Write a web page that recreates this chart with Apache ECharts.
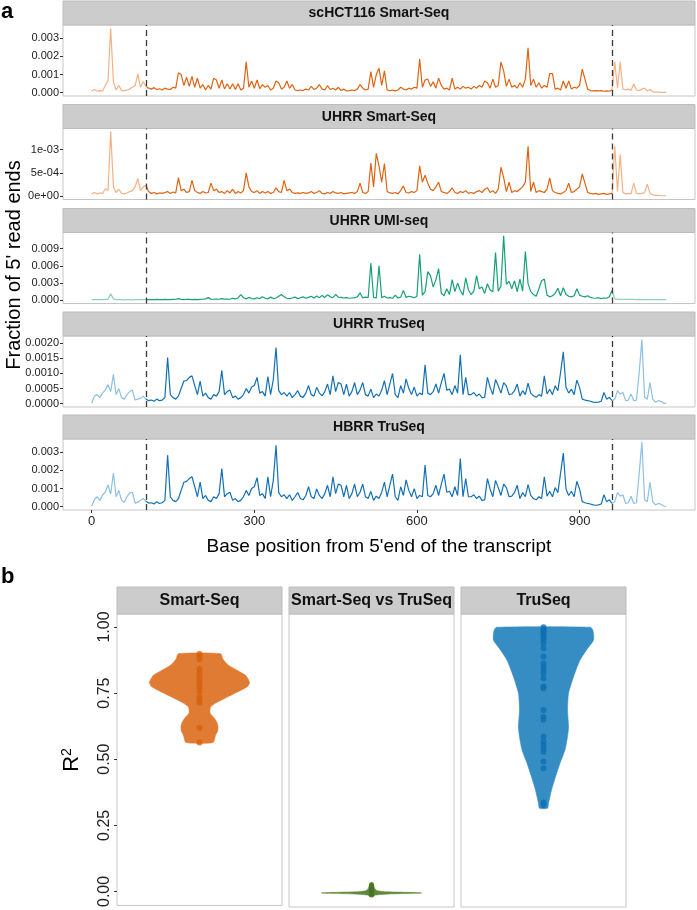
<!DOCTYPE html>
<html><head><meta charset="utf-8">
<script src="https://cdn.jsdelivr.net/npm/echarts@6/dist/echarts.min.js"></script>
<style>html,body{margin:0;padding:0;background:#fff}#c{width:697px;height:910px}</style>
</head><body><div id="c"></div>
<script>
// ---------------- DATA ----------------
// Panel a: fraction of 5' read ends, in units of 1e-5, at positions 0,5,10,...,1060
const facetTitlesA = ['scHCT116 Smart-Seq', 'UHRR Smart-Seq', 'UHRR UMI-seq', 'UHRR TruSeq', 'HBRR TruSeq'];
const binWidth = 5;
const scHCT116Smart = [
10,18,8,12,10,40,65,354,60,15,40,12,10,14,20,30,38,104,30,60,
35,25,20,28,18,22,15,25,20,18,30,25,110,100,40,85,35,90,30,80,
25,45,15,40,20,80,70,25,70,20,50,20,50,18,50,15,25,170,30,65,
25,70,22,45,30,40,15,25,65,55,20,30,65,25,45,15,12,15,12,20,
15,35,18,25,45,20,15,40,18,25,15,30,12,20,10,12,15,12,20,45,
25,15,20,116,30,100,135,40,120,15,12,15,10,15,30,20,15,25,20,30,
25,185,30,70,75,35,60,25,80,40,20,25,15,80,20,30,20,35,25,30,
20,35,25,40,30,65,55,25,75,30,40,170,120,35,75,30,40,25,55,30,
75,247,40,75,30,55,25,40,30,105,105,20,25,15,65,25,65,20,30,25,
40,130,75,20,12,10,12,10,12,8,10,8,15,170,25,170,20,15,20,12,
50,15,12,20,25,10,18,5,3,3,2,2,2];
const uhrrSmart = [
5,8,5,7,6,16,12,139,20,8,15,6,5,7,10,12,20,38,12,20,
23,10,6,8,5,7,6,8,10,6,9,7,40,12,15,8,10,34,12,8,
6,10,7,8,28,12,15,8,10,6,12,7,15,6,10,7,12,50,20,10,
8,12,6,10,7,10,6,8,18,10,8,34,12,15,8,6,7,6,8,6,
7,10,6,8,12,6,5,8,6,10,7,6,8,5,6,7,8,6,10,28,
8,6,10,71,20,92,65,30,70,10,7,6,8,5,12,22,8,7,10,8,
12,65,30,45,28,15,12,20,30,10,8,6,10,18,8,6,10,8,12,6,
8,6,10,12,8,15,18,8,12,6,15,62,40,10,30,8,12,10,15,20,
30,107,10,30,8,12,10,8,15,39,12,8,6,5,8,12,28,8,10,15,
20,48,28,8,6,5,6,4,5,6,4,5,6,107,10,89,8,5,6,5,
28,6,5,6,8,26,6,3,2,2,1,1,1];
const uhrrUmi = [
10,10,10,12,10,15,20,115,25,12,10,10,8,10,10,8,10,10,12,10,
10,12,10,12,15,10,12,15,12,10,15,18,30,15,12,18,15,12,15,12,
15,18,25,46,20,18,22,18,30,20,22,18,35,25,40,100,45,25,50,30,
25,45,30,60,35,25,55,30,40,70,100,60,35,30,40,55,30,45,60,35,
50,70,40,75,45,85,50,95,60,45,100,55,50,40,45,35,40,45,60,130,
40,55,45,650,50,40,600,45,70,40,45,35,90,40,55,170,50,70,60,45,
70,800,90,150,500,430,230,360,550,120,80,200,100,360,150,300,170,90,390,180,
100,160,430,200,230,120,290,180,150,830,160,250,1125,280,330,200,340,150,370,160,
850,290,150,100,70,200,340,370,90,60,80,120,210,80,220,100,70,60,80,200,
90,70,60,80,50,40,35,45,30,40,35,60,170,25,20,15,18,15,15,18,
15,12,15,12,12,12,10,10,10,10,10,10,10];
const uhrrTru = [
2,25,30,20,35,45,63,40,97,30,50,20,15,30,40,45,12,15,18,25,
15,10,12,8,15,10,12,20,153,30,20,15,25,50,75,76,87,92,60,30,
75,25,35,20,15,30,25,40,110,30,40,45,20,25,15,20,30,50,35,55,
60,87,35,40,25,90,30,80,186,43,30,37,25,37,20,30,43,25,21,35,
60,30,25,54,35,26,40,65,30,92,40,70,65,30,65,25,40,70,30,45,
70,30,25,48,20,32,25,45,76,30,65,100,30,20,60,35,82,50,30,55,
25,35,30,129,35,30,40,65,35,70,100,45,48,30,60,35,162,30,87,30,
30,37,25,32,20,21,87,54,30,80,59,35,70,59,30,32,43,65,25,43,
30,68,35,26,21,30,25,92,32,48,30,59,43,103,172,54,35,48,30,78,
54,15,12,10,8,5,4,5,8,37,15,21,10,15,43,32,37,10,12,32,
10,12,103,212,21,15,70,15,5,10,8,2,1];
const hbrrTru = [
3,40,55,35,65,80,120,70,186,55,90,35,25,55,75,80,20,25,35,45,
30,20,22,15,28,18,22,35,284,55,35,28,45,90,135,140,155,165,110,55,
135,45,62,35,28,55,45,72,210,55,72,80,35,45,28,35,55,90,62,100,
110,160,62,72,45,165,55,145,338,78,55,66,45,66,35,55,78,45,38,62,
110,55,45,98,62,45,72,118,55,165,72,125,118,55,118,45,72,125,55,80,
125,55,45,85,35,58,45,80,135,55,118,180,55,35,110,62,148,90,55,100,
45,62,55,230,62,55,72,118,62,125,180,80,85,55,110,62,265,55,155,55,
55,66,45,58,35,38,155,98,55,145,105,62,125,105,55,58,78,118,45,78,
55,122,62,45,38,55,45,165,58,85,55,105,78,185,295,98,62,85,55,140,
98,28,22,18,15,10,8,10,15,66,28,38,18,28,78,58,66,18,22,58,
18,22,180,356,38,28,135,28,10,18,14,4,2];
const seriesA = [scHCT116Smart, uhrrSmart, uhrrUmi, uhrrTru, hbrrTru];
const yMaxA = [373, 145, 1181, 224, 373];
const yMinA = [-18, -7, -56, -11, -18];
const yTickValuesA = [[0,100,200,300],[0,50,100],[0,300,600,900],[0,50,100,150,200],[0,100,200,300]];
const yTickLabelsA = [['0.000','0.001','0.002','0.003'],['0e+00','5e-04','1e-03'],['0.000','0.003','0.006','0.009'],['0.0000','0.0005','0.0010','0.0015','0.0020'],['0.000','0.001','0.002','0.003']];
const xTickValuesA = [0, 300, 600, 900];
const xTickLabelsA = ['0', '300', '600', '900'];
const cdsStart = 100, cdsEnd = 961;

// Panel b: R^2 values
const groupsB = ['Smart-Seq', 'Smart-Seq vs TruSeq', 'TruSeq'];
const r2Smart = [0.898,0.888,0.878,0.841,0.826,0.811,0.798,0.786,0.773,0.757,0.736,0.726,0.713,0.619,0.563];
const r2Cross = [0.032,0.027,0.022,0.018,0.014,0.010,0.007,0.004,0.002,0.000,-0.002,-0.004,-0.008];
const r2Tru = [0.999,0.991,0.984,0.976,0.969,0.961,0.951,0.939,0.920,0.889,0.864,0.851,0.839,0.826,0.807,0.776,0.770,0.688,0.663,0.651,0.588,0.569,0.556,0.544,0.531,0.494,0.469,0.340,0.331];
// violin outlines: R^2 level and relative half width (density)
const violinSmartY = [0.899,0.878,0.855,0.835,0.817,0.800,0.789,0.775,0.760,0.745,0.729,0.713,0.697,0.675,0.654,0.638,0.622,0.605,0.591,0.563];
const violinSmartW = [0.42,0.47,0.58,0.76,0.92,0.98,1.00,0.96,0.82,0.66,0.49,0.33,0.22,0.21,0.30,0.35,0.37,0.36,0.32,0.27];
const violinCrossY = [-0.014,-0.008,-0.004,-0.0015,0.0,0.0015,0.004,0.008,0.015,0.025,0.034];
const violinCrossW = [0.03,0.08,0.35,0.85,1.00,0.85,0.30,0.12,0.07,0.05,0.03];
const violinTruY = [0.999,0.985,0.951,0.914,0.876,0.813,0.751,0.688,0.625,0.588,0.538,0.488,0.437,0.387,0.337,0.318];
const violinTruW = [0.94,0.99,1.00,0.86,0.73,0.60,0.50,0.48,0.50,0.48,0.43,0.33,0.24,0.16,0.10,0.08];
const yTickValuesB = [0, 0.25, 0.5, 0.75, 1.0];
const yTickLabelsB = ['0.00', '0.25', '0.50', '0.75', '1.00'];

// ---------------- STYLE / LAYOUT ----------------
const FONT = '"Liberation Sans", Arial, Helvetica, sans-serif';
const darkCols = ['#DE6412', '#DE6412', '#17A077', '#1470B3', '#1470B3'];
const lightCols = ['#F3B285', '#F3B285', '#8ED3BA', '#8DC0E2', '#8DC0E2'];
const violinFill = ['#E07B33', '#5F8A3C', '#368DC3'];
const pointCol = ['#D8620C', '#4A7426', '#0E6FB2'];
const gridLeftA = 63, gridRightA = 2, panelHA = 71, stripHA = 24;
const topsA = [25, 128.5, 232.5, 336, 439];
const leftsB = [117, 289, 461], widthB = 165, topB = 614, heightB = 293, stripHB = 27;
const VW = 0.364;
const borderCol = '#C6C6C6';

const grids = [], xAxes = [], yAxes = [], series = [], graphics = [];
const positions = seriesA[0].map((_, i) => i * binWidth);

seriesA.forEach((vals, f) => {
  grids.push({left: gridLeftA, right: gridRightA, top: topsA[f], height: panelHA, show: true, borderColor: borderCol, borderWidth: 1});
  const last = f === seriesA.length - 1;
  xAxes.push({type: 'value', gridIndex: f, min: -53, max: 1113, splitLine: {show: false}, position: 'bottom',
    axisLine: {show: false, onZero: false},
    axisTick: {show: last, customValues: xTickValuesA, length: 3, lineStyle: {color: '#333'}},
    axisLabel: {show: last, customValues: xTickValuesA, formatter: v => xTickLabelsA[xTickValuesA.indexOf(v)],
      fontFamily: FONT, fontSize: 13, color: '#222', margin: 5}});
  yAxes.push({type: 'value', gridIndex: f, min: yMinA[f], max: yMaxA[f], splitLine: {show: false}, position: 'left',
    axisLine: {show: false, onZero: false},
    axisTick: {show: true, customValues: yTickValuesA[f], length: 3, lineStyle: {color: '#333'}},
    axisLabel: {customValues: yTickValuesA[f], formatter: v => yTickLabelsA[f][yTickValuesA[f].indexOf(v)],
      fontFamily: FONT, fontSize: 11, color: '#222', margin: 4}});
  const pts = vals.map((v, i) => [positions[i], v]);
  const iStart = positions.indexOf(cdsStart), iEnd = positions.indexOf(960);
  const base = {type: 'line', xAxisIndex: f, yAxisIndex: f, showSymbol: false, symbol: 'none', silent: true, animation: false};
  series.push(Object.assign({}, base, {data: pts.slice(0, iStart + 1), lineStyle: {color: lightCols[f], width: 1.2}}));
  series.push(Object.assign({}, base, {data: pts.slice(iEnd), lineStyle: {color: lightCols[f], width: 1.2}}));
  series.push(Object.assign({}, base, {data: pts.slice(iStart, iEnd + 1), lineStyle: {color: darkCols[f], width: 1.2},
    markLine: {silent: true, symbol: ['none', 'none'], label: {show: false}, animation: false,
      lineStyle: {color: '#3a3a3a', type: [6, 4], width: 1.3},
      data: [{xAxis: cdsStart}, {xAxis: cdsEnd}]}}));
  graphics.push({type: 'rect', shape: {x: gridLeftA, y: topsA[f] - stripHA, width: 697 - gridLeftA - gridRightA, height: stripHA},
    style: {fill: '#CCCCCC', stroke: '#BDBDBD', lineWidth: 1}, silent: true});
  graphics.push({type: 'text', x: gridLeftA + (697 - gridLeftA - gridRightA) / 2, y: topsA[f] - stripHA / 2 + 0.5,
    style: {text: facetTitlesA[f], font: 'bold 14px ' + FONT, fill: '#111', align: 'center', verticalAlign: 'middle'}, silent: true});
});

const r2Groups = [r2Smart, r2Cross, r2Tru];
const violinY = [violinSmartY, violinCrossY, violinTruY];
const violinW = [violinSmartW, violinCrossW, violinTruW];
groupsB.forEach((g, k) => {
  const gi = seriesA.length + k;
  grids.push({left: leftsB[k], width: widthB, top: topB, height: heightB, show: true, borderColor: borderCol, borderWidth: 1});
  xAxes.push({type: 'value', gridIndex: gi, min: 0.4, max: 1.6, show: false, axisLine: {onZero: false}});
  yAxes.push({type: 'value', gridIndex: gi, min: -0.053, max: 1.049, show: k === 0, splitLine: {show: false}, position: 'left',
    axisLine: {show: false, onZero: false},
    axisTick: {show: true, customValues: yTickValuesB, length: 3, lineStyle: {color: '#333'}},
    axisLabel: {customValues: yTickValuesB, formatter: v => yTickLabelsB[yTickValuesB.indexOf(v)], rotate: 90,
      fontFamily: FONT, fontSize: 16, color: '#222', margin: 4}});
  const ys = violinY[k], ws = violinW[k], fill = violinFill[k];
  series.push({type: 'custom', xAxisIndex: gi, yAxisIndex: gi, silent: true, animation: false, clip: false,
    data: [[1, ys[0]]],
    renderItem: function (params, api) {
      const p = [];
      for (let i = 0; i < ys.length; i++) p.push(api.coord([1 - ws[i] * VW, ys[i]]));
      for (let i = ys.length - 1; i >= 0; i--) p.push(api.coord([1 + ws[i] * VW, ys[i]]));
      return {type: 'polygon', shape: {points: p, smooth: 0.2}, style: {fill: fill, stroke: fill, lineWidth: 0.6}};
    }});
  series.push({type: 'scatter', xAxisIndex: gi, yAxisIndex: gi, silent: true, animation: false,
    symbolSize: k === 1 ? 5 : 6, itemStyle: {color: pointCol[k]},
    data: r2Groups[k].map(v => [1, v])});
  graphics.push({type: 'rect', shape: {x: leftsB[k], y: topB - stripHB, width: widthB, height: stripHB},
    style: {fill: '#CCCCCC', stroke: '#BDBDBD', lineWidth: 1}, silent: true});
  graphics.push({type: 'text', x: leftsB[k] + widthB / 2, y: topB - stripHB / 2 + 0.5,
    style: {text: g, font: 'bold 16px ' + FONT, fill: '#111', align: 'center', verticalAlign: 'middle'}, silent: true});
});

// titles and panel letters
graphics.push({type: 'text', x: 1, y: 12, style: {text: 'a', font: 'bold 22px ' + FONT, fill: '#000', align: 'left', verticalAlign: 'middle'}, silent: true});
graphics.push({type: 'text', x: 1, y: 577, style: {text: 'b', font: 'bold 22px ' + FONT, fill: '#000', align: 'left', verticalAlign: 'middle'}, silent: true});
graphics.push({type: 'text', x: 14, y: 265, rotation: Math.PI / 2,
  style: {text: "Fraction of 5' read ends", font: '20px ' + FONT, fill: '#000', align: 'center', verticalAlign: 'middle'}, silent: true});
graphics.push({type: 'text', x: 379, y: 547,
  style: {text: "Base position from 5'end of the transcript", font: '19px ' + FONT, fill: '#000', align: 'center', verticalAlign: 'middle'}, silent: true});
graphics.push({type: 'text', x: 72, y: 760, rotation: Math.PI / 2,
  style: {text: 'R{s|2}', font: '22px ' + FONT, fill: '#000', align: 'center', verticalAlign: 'middle',
    rich: {s: {font: '14px ' + FONT, fill: '#000', verticalAlign: 'top', padding: [0, 0, 10, 0]}}}, silent: true});

const chart = echarts.init(document.getElementById('c'), null, {renderer: 'canvas'});
chart.setOption({
  animation: false,
  backgroundColor: '#fff',
  grid: grids, xAxis: xAxes, yAxis: yAxes, series: series,
  graphic: {elements: graphics}
});
</script>
</body></html>
